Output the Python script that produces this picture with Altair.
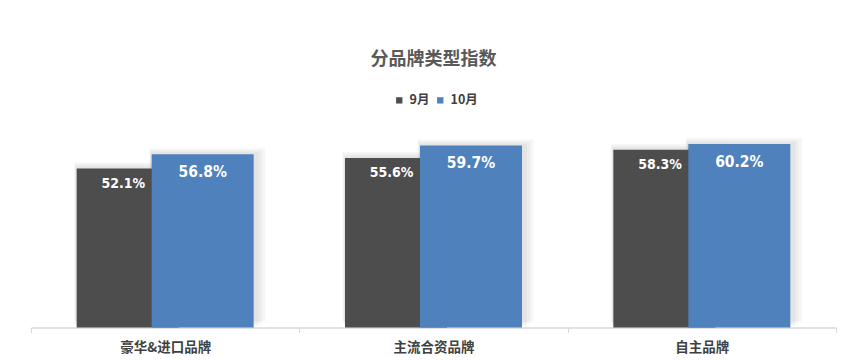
import altair as alt
import pandas as pd

categories = ["豪华&进口品牌", "主流合资品牌", "自主品牌"]
series_names = ["9月", "10月"]
sep_values = [52.1, 55.6, 58.3]
oct_values = [56.8, 59.7, 60.2]
colors = ["#4d4d4d", "#4f81bd"]

rows = []
for c, a, b in zip(categories, sep_values, oct_values):
    rows.append({"cat": c, "series": "9月", "value": a, "label": f"{a:.1f}%"})
    rows.append({"cat": c, "series": "10月", "value": b, "label": f"{b:.1f}%"})
df = pd.DataFrame(rows)

cjk = "Noto Sans CJK SC"
num_font = "DejaVu Sans Condensed, Liberation Sans Narrow, Liberation Sans"

x = alt.X("cat:N", sort=categories, title=None,
          scale=alt.Scale(paddingInner=0, paddingOuter=0),
          axis=alt.Axis(labelAngle=0, labelFont=cjk, labelFontSize=13.5, labelFontWeight="bold",
                        labelColor="#404040", domainColor="#d9d9d9", tickColor="#d9d9d9",
                        tickBand="extent", tickSize=5, labelPadding=8, domainWidth=1.5))
y = alt.Y("value:Q", scale=alt.Scale(domain=[0, 70]), axis=None)
color = alt.Color("series:N", sort=series_names,
                  scale=alt.Scale(domain=series_names, range=colors),
                  legend=alt.Legend(title=None, orient="none", direction="horizontal",
                                    legendX=362, legendY=-20, symbolType="square", symbolSize=40,
                                    labelFont=cjk, labelFontSize=12.5, labelFontWeight="bold",
                                    labelColor="#404040", columnPadding=4, labelOffset=4,
                                    symbolStrokeWidth=0))

base = alt.Chart(df)
s9 = base.transform_filter(alt.datum.series == "9月")
s10 = base.transform_filter(alt.datum.series == "10月")

layers = []
# soft shadow behind bars
for grow, off in [(14, -6), (10, -4), (6, -2)]:
    for src, xo in [(s9, -37.5), (s10, 37.5)]:
        layers.append(src.mark_bar(width=102 + grow, xOffset=xo + grow / 3, yOffset=off,
                                   color="#000000", opacity=0.035).encode(x=x, y=y))

bar9 = s9.mark_bar(width=102, xOffset=-37.5).encode(x=x, y=y, color=color)
bar10 = s10.mark_bar(width=102, xOffset=37.5).encode(x=x, y=y, color=color)
txt9 = s9.mark_text(
    align="right", baseline="middle", dx=-20, dy=15, color="white",
    font=num_font, fontWeight="bold", fontSize=14).encode(x=x, y=y, text="label:N")
txt10 = s10.mark_text(
    align="center", baseline="middle", dx=37.5, dy=18, color="white",
    font=num_font, fontWeight="bold", fontSize=15.5).encode(x=x, y=y, text="label:N")

chart = alt.layer(*layers, bar9, bar10, txt9, txt10).properties(
    width=805, height=213.5,
    padding={"left": 22, "top": 43, "right": 5, "bottom": 0},
    title=alt.TitleParams("分品牌类型指数", font=cjk, fontSize=18, fontWeight="bold",
                          color="#595959", anchor="middle", offset=25),
).configure(background="white").configure_view(stroke=None)

chart.save("out.html", embed_options={"renderer": "svg", "actions": False})
